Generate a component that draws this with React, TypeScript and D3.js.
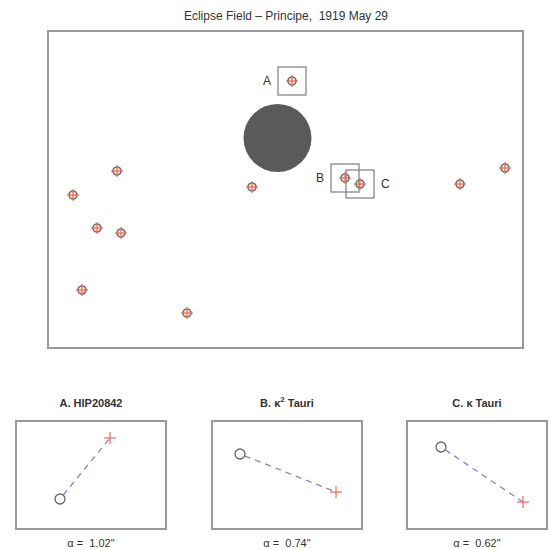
import React from "react";
import * as d3 from "d3";

// Field stars (field units; x to the right, y downward)
const starNames = ["A", "s2", "s3", "s4", "s5", "s6", "s7", "s8", "B", "C", "s11", "s12"];
const starX = [244, 69, 25, 49, 73, 34, 139, 204, 297, 312, 412, 457];
const starY = [50, 140, 164, 197, 202, 259, 282, 156, 147, 153, 153, 137];
const sunX = 229.5;
const sunY = 107;
const sunR = 34;
const boxedStars = ["A", "B", "C"];
const boxLabelSide = ["left", "left", "right"];

// Panels: deflection of each star (observed circle vs plus)
const panelTitles = ["A. HIP20842", "B. \u03BA", "C. \u03BA Tauri"];
const panelAlpha = ["1.02\"", "0.74\"", "0.62\""];
const circX = [44, 28, 34];
const circY = [78, 33, 26];
const plusX = [94, 124, 116];
const plusY = [17, 71, 81];

const FONT = "Liberation Sans, Arial, sans-serif";

function Plus({ x, y, s, color, w }: { x: number; y: number; s: number; color: string; w: number }) {
  return (
    <g stroke={color} strokeWidth={w}>
      <line x1={x - s} x2={x + s} y1={y} y2={y} />
      <line x1={x} x2={x} y1={y - s} y2={y + s} />
    </g>
  );
}

export default function App() {
  const W = 556, H = 550;
  const fx = d3.scaleLinear().domain([0, 475]).range([48, 523]);
  const fy = d3.scaleLinear().domain([0, 317]).range([31, 348]);

  const panels = [
    { left: 16, width: 150 },
    { left: 212, width: 150 },
    { left: 407, width: 140 },
  ];
  const pTop = 421, pH = 108;

  return (
    <svg width={W} height={H} style={{ position: "absolute", left: 0, top: 0, background: "#fff", whiteSpace: "pre" }} fontFamily={FONT}>
      <text x={286} y={20} textAnchor="middle" fontSize={12} fill="#333" style={{ whiteSpace: "pre" }}>
        {"Eclipse Field \u2013 Principe,  1919 May 29"}
      </text>
      <rect x={fx(0)} y={fy(0)} width={fx(475) - fx(0)} height={fy(317) - fy(0)} fill="none" stroke="#999" strokeWidth={2} />
      <circle cx={fx(sunX)} cy={fy(sunY)} r={sunR} fill="#5a5a5a" />
      {starX.map((sx, i) => (
        <g key={i}>
          <circle cx={fx(sx)} cy={fy(starY[i])} r={4} fill="#fbe3dc" stroke="#6f6f6f" strokeWidth={1.6} />
          <Plus x={fx(sx)} y={fy(starY[i])} s={6} color="#f26a4f" w={1.2} />
        </g>
      ))}
      {boxedStars.map((name, k) => {
        const i = starNames.indexOf(name);
        const cx = fx(starX[i]), cy = fy(starY[i]);
        const side = boxLabelSide[k];
        return (
          <g key={name}>
            <rect x={cx - 14} y={cy - 14} width={28} height={28} fill="none" stroke="#888" strokeWidth={1.3} />
            <text x={side === "left" ? cx - 21 : cx + 21} y={cy + 4} textAnchor={side === "left" ? "end" : "start"} fontSize={12} fill="#333">
              {name}
            </text>
          </g>
        );
      })}
      {panels.map((p, i) => {
        const px = d3.scaleLinear().domain([0, p.width]).range([p.left, p.left + p.width]);
        const py = d3.scaleLinear().domain([0, pH]).range([pTop, pTop + pH]);
        const ccx = px(circX[i]), ccy = py(circY[i]);
        const ppx = px(plusX[i]), ppy = py(plusY[i]);
        const ang = Math.atan2(ppy - ccy, ppx - ccx);
        const mid = p.left + p.width / 2;
        return (
          <g key={i}>
            <text x={mid} y={407} textAnchor="middle" fontSize={11} fontWeight="bold" fill="#333">
              {panelTitles[i]}
              {i === 1 && (
                <>
                  <tspan dy={-5} fontSize={8}>2</tspan>
                  <tspan dy={5}> Tauri</tspan>
                </>
              )}
            </text>
            <rect x={p.left} y={pTop} width={p.width} height={pH} fill="none" stroke="#999" strokeWidth={2} />
            <line x1={ccx + 5 * Math.cos(ang)} y1={ccy + 5 * Math.sin(ang)} x2={ppx} y2={ppy} stroke="#8080e0" strokeWidth={1.3} strokeDasharray="6,5" />
            <circle cx={ccx} cy={ccy} r={5} fill="none" stroke="#666" strokeWidth={1.3} />
            <Plus x={ppx} y={ppy} s={6} color="#f26a4f" w={1.2} />
            <text x={mid} y={547} textAnchor="middle" fontSize={11} fill="#333" style={{ whiteSpace: "pre" }}>
              {"\u03B1 =  " + panelAlpha[i]}
            </text>
          </g>
        );
      })}
    </svg>
  );
}
